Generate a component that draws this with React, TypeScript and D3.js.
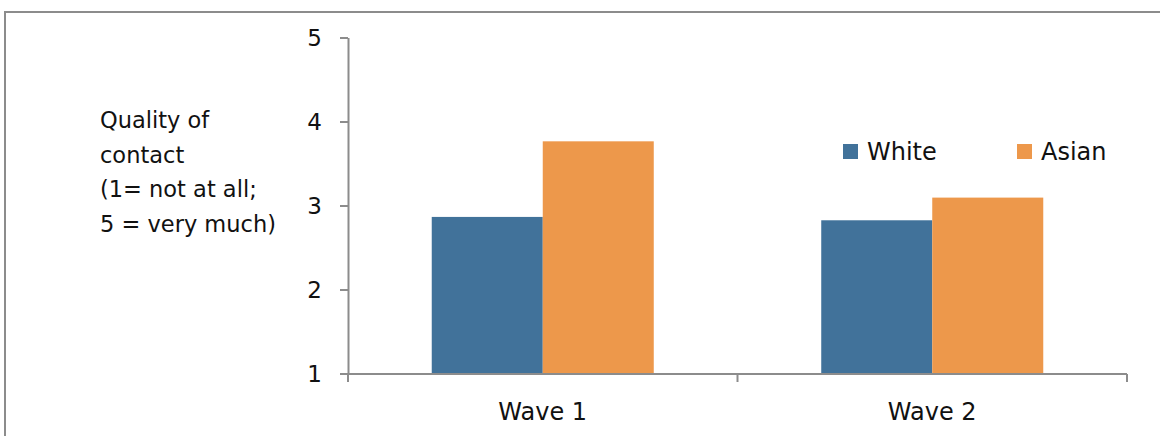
import React from "react";
import * as d3 from "d3";

const categories = ["Wave 1", "Wave 2"];
const seriesNames = ["White", "Asian"];
const whiteValues = [2.87, 2.83];
const asianValues = [3.77, 3.1];
const yTicks = [1, 2, 3, 4, 5];
const yLabelLines = ["Quality of", "contact", "(1= not at all;", "5 = very much)"];
const colors = ["#41729a", "#ed984b"];

const W = 1160;
const H = 436;
const FONT = "'DejaVu Sans', sans-serif";

export default function App() {
  const x0 = d3.scaleBand<string>().domain(categories).range([348, 1127]).paddingInner(0.43).paddingOuter(0.215);
  const x1 = d3.scaleBand<string>().domain(seriesNames).range([0, x0.bandwidth()]);
  const y = d3.scaleLinear().domain([1, 5]).range([374, 38]);
  const values = [whiteValues, asianValues];
  const axisColor = "#8c8c8c";

  return (
    <svg width={W} height={H} style={{ position: "absolute", left: 0, top: 0, background: "#fff" }}>
      <rect x={5} y={12} width={1200} height={500} fill="#fff" stroke="#8c8c8c" strokeWidth={2} />
      {categories.map((c, ci) =>
        seriesNames.map((s, si) => (
          <rect
            key={c + s}
            x={(x0(c) ?? 0) + (x1(s) ?? 0)}
            y={y(values[si][ci])}
            width={x1.bandwidth()}
            height={y(1) - y(values[si][ci])}
            fill={colors[si]}
          />
        ))
      )}
      {/* y axis */}
      <line x1={348.5} x2={348.5} y1={y(5)} y2={y(1)} stroke={axisColor} strokeWidth={2} />
      {yTicks.map((t) => (
        <g key={t}>
          <line x1={340} x2={348} y1={y(t)} y2={y(t)} stroke={axisColor} strokeWidth={2} />
          <text x={322} y={y(t)} dy="0.36em" textAnchor="end" fontFamily={FONT} fontSize={23} fill="#111">
            {t}
          </text>
        </g>
      ))}
      {/* x axis */}
      <line x1={348} x2={1127} y1={y(1)} y2={y(1)} stroke={axisColor} strokeWidth={2} />
      {[348, 737.5, 1127].map((p, i) => (
        <line key={i} x1={p} x2={p} y1={y(1)} y2={y(1) + 8} stroke={axisColor} strokeWidth={2} />
      ))}
      {categories.map((c) => (
        <text
          key={c}
          x={(x0(c) ?? 0) + x0.bandwidth() / 2}
          y={420}
          textAnchor="middle"
          fontFamily={FONT}
          fontSize={24}
          fill="#111"
        >
          {c}
        </text>
      ))}
      {/* y label */}
      {yLabelLines.map((l, i) => (
        <text key={i} x={100} y={128 + i * 34.7} fontFamily={FONT} fontSize={22.5} fill="#111">
          {l}
        </text>
      ))}
      {/* legend */}
      {seriesNames.map((s, i) => {
        const lx = [843, 1017][i];
        return (
          <g key={s}>
            <rect x={lx} y={144} width={15} height={15} fill={colors[i]} />
            <text x={lx + 24} y={160} fontFamily={FONT} fontSize={24} fill="#111">
              {s}
            </text>
          </g>
        );
      })}
    </svg>
  );
}
